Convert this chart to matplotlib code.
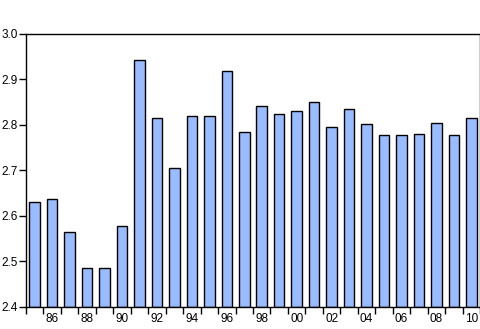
import numpy as np
import matplotlib
matplotlib.use('Agg')
import matplotlib.pyplot as plt
from matplotlib.ticker import FixedLocator, FixedFormatter

plt.rcParams['font.family'] = ['Liberation Sans', 'DejaVu Sans']

# yearly values 1985-2010
years = list(range(1985, 2011))
values = [2.630, 2.638, 2.564, 2.485, 2.485, 2.577, 2.941, 2.814, 2.706,
          2.818, 2.818, 2.917, 2.785, 2.840, 2.823, 2.831, 2.849, 2.794,
          2.834, 2.801, 2.777, 2.777, 2.779, 2.803, 2.777, 2.814]
label_years = [y for y in years if y % 2 == 0]
yticks = [2.4, 2.5, 2.6, 2.7, 2.8, 2.9, 3.0]

fig = plt.figure(figsize=(4.81, 3.29), dpi=100)
ax = fig.add_axes([0.054, 0.067, 0.944, 0.831])

pos = np.arange(len(years))
ax.bar(pos, np.array(values) - 2.4, bottom=2.4, width=0.6,
       color='#99bbff', edgecolor='black', linewidth=1.0)

ax.set_xlim(-0.5, len(years) - 0.5)
ax.set_ylim(2.4, 3.0)

# ticks at boundaries between years, labels at year centers
ax.xaxis.set_major_locator(FixedLocator(np.arange(len(years) + 1) - 0.5))
ax.xaxis.set_major_formatter(FixedFormatter([''] * (len(years) + 1)))
lab_pos = [years.index(y) for y in label_years]
ax.xaxis.set_minor_locator(FixedLocator(lab_pos))
ax.xaxis.set_minor_formatter(FixedFormatter(['%02d' % (y % 100) for y in label_years]))
ax.tick_params(axis='x', which='major', direction='out', length=5, width=1)
ax.tick_params(axis='x', which='minor', length=0, pad=4, labelsize=8.5)

ax.set_yticks(yticks)
ax.set_yticklabels(['%.1f' % v for v in yticks])
ax.tick_params(axis='y', direction='out', length=5, width=1, pad=1, labelsize=8.5)

for s in ax.spines.values():
    s.set_linewidth(1.0)

fig.savefig('out.png', dpi=100)
